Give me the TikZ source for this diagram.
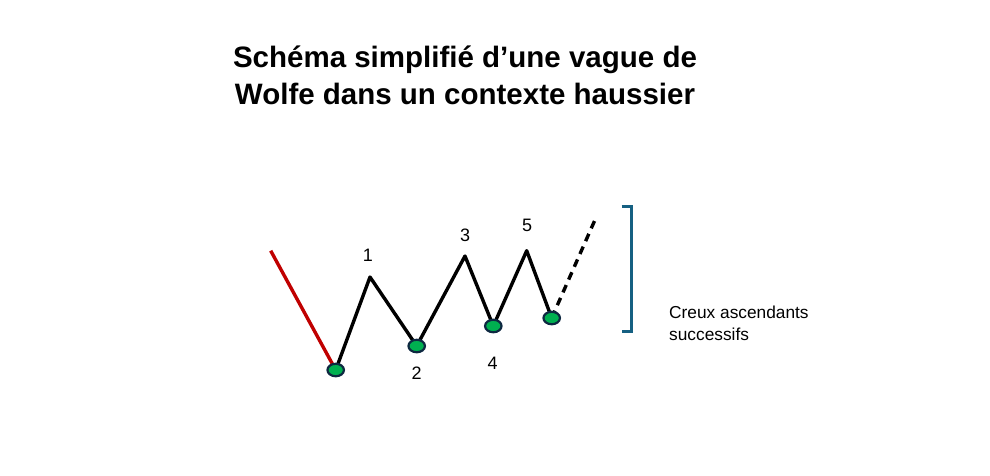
\documentclass[tikz,border=0pt]{standalone}
\usepackage{fontspec}
\setmainfont{Liberation Sans}
\usetikzlibrary{shapes.geometric}
\definecolor{vert}{HTML}{00B050}
\definecolor{rouge}{HTML}{C00000}
\definecolor{bleu}{HTML}{156082}
\definecolor{contour}{HTML}{0E2841}
\begin{document}
\begin{tikzpicture}[x=1pt,y=-1pt,
  trait/.style={line width=3.4pt, black, line join=round},
  creux/.style={ellipse, draw=contour, fill=vert, line width=2.2pt, minimum width=16.5pt, minimum height=12.5pt, inner sep=0pt},
  chiffre/.style={font=\fontsize{18}{20}\selectfont, inner sep=0pt}]
\useasboundingbox (0,0) rectangle (990,475);
\node[font=\fontsize{29.5}{37.5}\selectfont\bfseries, align=center, inner sep=0pt] (titre) at (465,75.5) {Schéma simplifié d’une vague de\\Wolfe dans un contexte haussier};
% points de la vague
\coordinate (A) at (270.7,250.7);
\coordinate (T0) at (335.7,370);
\coordinate (P1) at (370,277);
\coordinate (T2) at (416.7,346);
\coordinate (P3) at (465,256);
\coordinate (T4) at (493.3,326);
\coordinate (P5) at (526.7,250.7);
\coordinate (T6) at (551.7,318);
\coordinate (E) at (596.7,216);
\draw[line width=3.4pt, rouge] (A) -- (T0);
\draw[trait] (T0) -- (P1) -- (T2) -- (P3) -- (T4) -- (P5) -- (T6);
\draw[trait, dash pattern=on 8pt off 6pt] (T6) -- (E);
\node[creux] (c0) at (T0) {};
\node[creux] (c2) at (T2) {};
\node[creux] (c4) at (T4) {};
\node[creux] (c6) at (T6) {};
\node[chiffre] (n1) at (368,255) {1};
\node[chiffre] (n2) at (416.7,373) {2};
\node[chiffre] (n3) at (465,235) {3};
\node[chiffre] (n4) at (492.7,363) {4};
\node[chiffre] (n5) at (527,225) {5};
% crochet
\coordinate (H) at (621.7,206.7);
\coordinate (B) at (621.7,331.7);
\draw[line width=3pt, bleu] (H) -- ++(10,0) |- (B);
\node[anchor=north west, align=left, inner sep=0pt, font=\fontsize{17.3}{21.7}\selectfont] (texte) at (669,306) {Creux ascendants\\successifs};
\end{tikzpicture}
\end{document}
